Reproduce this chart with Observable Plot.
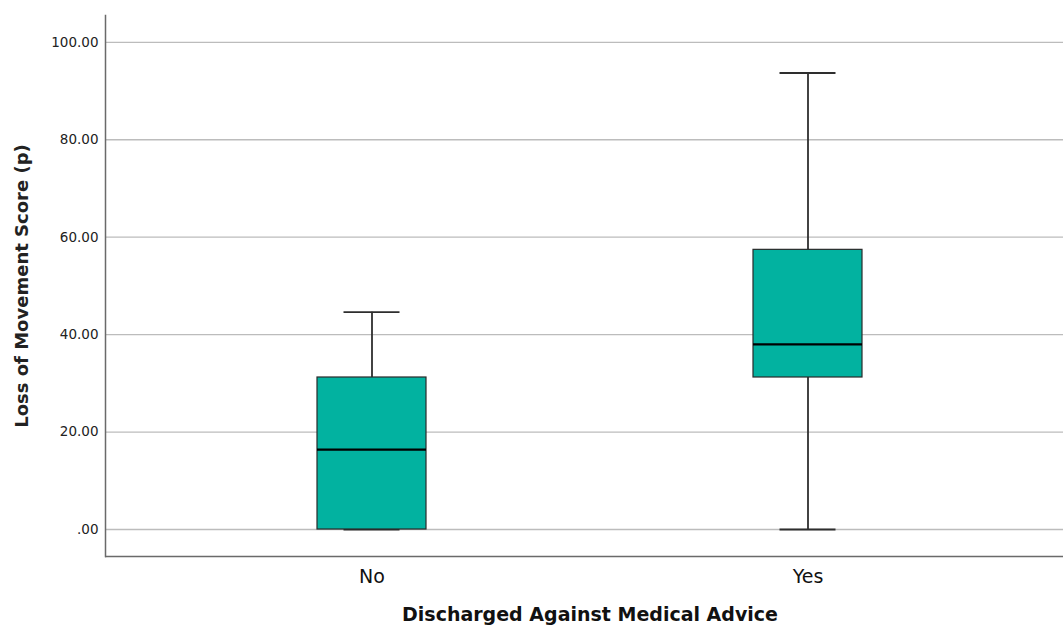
<!DOCTYPE html>
<html>
<head>
<meta charset="utf-8">
<script src="https://cdn.jsdelivr.net/npm/d3@7"></script>
<script src="https://cdn.jsdelivr.net/npm/@observablehq/plot@0.6"></script>
<style>
  html, body { margin: 0; padding: 0; background: #fff; overflow: hidden; }
  #chart svg { display: block; max-width: none !important; }
</style>
</head>
<body>
<div id="chart"></div>
<script>
// Five-number summaries of the loss-of-movement score per group
const groups = ["No", "Yes"];
const lowWhisker = [0, 0];
const q1 = [0, 31.2];
const median = [16.4, 38.0];
const q3 = [31.2, 57.4];
const highWhisker = [44.6, 93.7];
const yTicks = [0, 20, 40, 60, 80, 100];

const rows = groups.map((g, i) => ({
  group: g,
  low: lowWhisker[i],
  q1: q1[i],
  median: median[i],
  q3: q3[i],
  high: highWhisker[i]
}));

const yDomain = [-5.54, 105.5];
const fmt = d => d === 0 ? ".00" : d.toFixed(2);
const font = "'DejaVu Sans', 'Liberation Sans', sans-serif";

const chart = Plot.plot({
  width: 1074,
  height: 625,
  marginTop: 15,
  marginBottom: 69,
  marginLeft: 105,
  marginRight: 0,
  style: { fontFamily: font, background: "#fff", color: "#222", maxWidth: "none" },
  x: { type: "band", domain: groups, paddingInner: 0.75, paddingOuter: 0.484 },
  y: { domain: yDomain },
  marks: [
    // horizontal gridlines
    Plot.ruleY(yTicks, { stroke: "#bcbcbc", strokeWidth: 1.3 }),
    // axis lines
    Plot.ruleY([yDomain[0]], { stroke: "#6a6a6a", strokeWidth: 1.5 }),
    Plot.frame({ anchor: "left", stroke: "#6a6a6a", strokeWidth: 1.5 }),
    // whiskers
    Plot.ruleX(rows, { x: "group", y1: "low", y2: "q1", stroke: "#2e2e2e", strokeWidth: 1.8 }),
    Plot.ruleX(rows, { x: "group", y1: "q3", y2: "high", stroke: "#2e2e2e", strokeWidth: 1.8 }),
    Plot.tickY(rows, { x: "group", y: "low", stroke: "#2e2e2e", strokeWidth: 1.8, insetLeft: 26.5, insetRight: 26.5 }),
    Plot.tickY(rows, { x: "group", y: "high", stroke: "#2e2e2e", strokeWidth: 1.8, insetLeft: 26.5, insetRight: 26.5 }),
    // boxes
    Plot.barY(rows, { x: "group", y1: "q1", y2: "q3", fill: "#02b2a0", stroke: "#2a2a2a", strokeWidth: 1.2 }),
    // medians
    Plot.tickY(rows, { x: "group", y: "median", stroke: "#000", strokeWidth: 2.2 }),
    // axes
    Plot.axisY(yTicks, {
      tickSize: 0,
      tickPadding: 7,
      tickFormat: fmt,
      fontSize: 13.5,
      fill: "#222",
      label: "Loss of Movement Score (p)",
      labelArrow: "none",
      labelAnchor: "center",
      labelOffset: 90
    }),
    Plot.axisX({
      tickSize: 0,
      tickPadding: 13,
      fontSize: 19,
      fill: "#111",
      label: "Discharged Against Medical Advice",
      labelArrow: "none",
      labelAnchor: "center",
      labelOffset: 64
    })
  ]
});

// Bold axis titles
chart.querySelectorAll("g[aria-label='y-axis label'] text").forEach(t => {
  t.style.fontWeight = "bold";
  t.style.fontSize = "18px";
});
chart.querySelectorAll("g[aria-label='x-axis label'] text").forEach(t => {
  t.style.fontWeight = "bold";
  t.style.fontSize = "19px";
});

document.getElementById("chart").appendChild(chart);
</script>
</body>
</html>
